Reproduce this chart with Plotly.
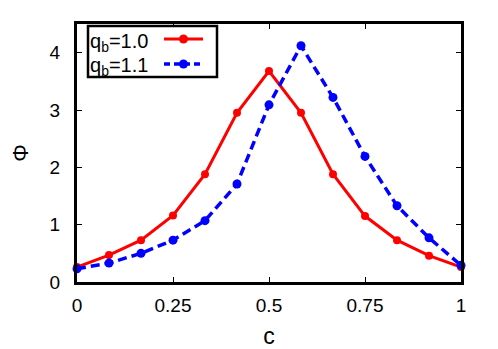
import plotly.graph_objects as go

# data
c_values = [0, 1/12, 2/12, 3/12, 4/12, 5/12, 6/12, 7/12, 8/12, 9/12, 10/12, 11/12, 1]
phi_q10 = [0.26, 0.47, 0.73, 1.16, 1.88, 2.95, 3.68, 2.95, 1.88, 1.15, 0.73, 0.46, 0.26]
phi_q11 = [0.23, 0.33, 0.50, 0.73, 1.07, 1.71, 3.09, 4.12, 3.22, 2.19, 1.33, 0.77, 0.29]
legend_labels = ["q<sub>b</sub>=1.0", "q<sub>b</sub>=1.1"]
x_ticks = [0, 0.25, 0.5, 0.75, 1]
x_ticktext = ["0", "0.25", "0.5", "0.75", "1"]
y_ticks = [0, 1, 2, 3, 4]

# the page body has an 8px margin, so the figure is drawn 8px in from the window corner
OFF = 8
W, H = 498 - OFF, 349 - OFF
L, R, T, B = 77 - OFF, 37, 24 - OFF, 67
pw, ph = W - L - R, H - T - B


def px(x):
    # window pixel -> paper fraction
    return (x - OFF - L) / pw


def py(y):
    return (H - B - (y - OFF)) / ph


fig = go.Figure()
fig.add_trace(go.Scatter(
    x=c_values, y=phi_q10, mode='lines+markers',
    line=dict(color='#ff0000', width=3),
    marker=dict(color='#ff0000', size=8),
    cliponaxis=False, showlegend=False,
))
fig.add_trace(go.Scatter(
    x=c_values, y=phi_q11, mode='lines+markers',
    line=dict(color='#0000ff', width=3.5, dash='9px,5px'),
    marker=dict(color='#0000ff', size=9),
    cliponaxis=False, showlegend=False,
))

# hand-made legend (text left, line sample right, as in gnuplot)
shapes = [dict(type='rect', xref='paper', yref='paper',
               x0=px(88), x1=px(217), y0=py(77), y1=py(26),
               line=dict(color='black', width=2.5), fillcolor='white', layer='above')]
annotations = []
rows = [(39, '#ff0000', 'solid', 3), (64, '#0000ff', '6px,4px', 3.5)]
for (yrow, col, dash, lw), lab in zip(rows, legend_labels):
    shapes.append(dict(type='line', xref='paper', yref='paper',
                       x0=px(164), x1=px(203), y0=py(yrow), y1=py(yrow),
                       line=dict(color=col, width=lw, dash=dash), layer='above'))
    shapes.append(dict(type='circle', xref='paper', yref='paper',
                       xsizemode='pixel', ysizemode='pixel',
                       xanchor=px(183.5), yanchor=py(yrow),
                       x0=-4.5, x1=4.5, y0=-4.5, y1=4.5,
                       fillcolor=col, line=dict(width=0), layer='above'))
    annotations.append(dict(text=lab, xref='paper', yref='paper',
                            x=px(88), y=py(yrow + 3), xanchor='left', yanchor='middle',
                            showarrow=False, font=dict(size=20, color='black')))

fig.update_layout(
    width=W, height=H,
    margin=dict(l=L, r=R, t=T, b=B),
    paper_bgcolor='white', plot_bgcolor='white',
    font=dict(family='Liberation Sans, Arial, sans-serif', size=19, color='black'),
    shapes=shapes, annotations=annotations,
    xaxis=dict(
        range=[0, 1], tickvals=x_ticks, ticktext=x_ticktext,
        showgrid=False, zeroline=False, automargin=False,
        showline=True, linecolor='black', linewidth=3, mirror='ticks',
        ticks='inside', ticklen=5, tickwidth=1, tickcolor='black',
        ticklabelstandoff=4,
        title=dict(text='c', font=dict(size=23), standoff=14),
    ),
    yaxis=dict(
        range=[0, 4.5], tickvals=y_ticks,
        showgrid=False, zeroline=False, automargin=False,
        showline=True, linecolor='black', linewidth=3, mirror='ticks',
        ticks='inside', ticklen=5, tickwidth=1, tickcolor='black',
        ticklabelstandoff=10,
        title=dict(text='Φ', font=dict(size=22), standoff=15),
    ),
)

fig.write_html("out.html")
